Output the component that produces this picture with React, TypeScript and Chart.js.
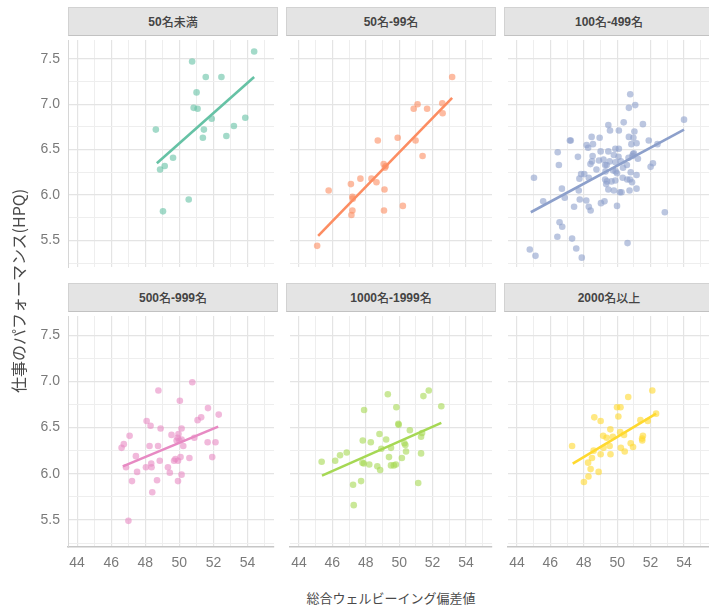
import React, { useEffect, useRef } from 'react';
import { Chart, registerables } from 'chart.js';

Chart.register(...registerables);

// ---------- data ----------
const panelTitles = ['50名未満', '50名-99名', '100名-499名', '500名-999名', '1000名-1999名', '2000名以上'];
const panelColors = ['#66C2A5', '#FC8D62', '#8DA0CB', '#E78AC3', '#A6D854', '#FFD92F'];

const xMajorTicks = [44, 46, 48, 50, 52, 54];
const xMinorTicks = [45, 47, 49, 51, 53, 55];
const yMajorTicks = [5.5, 6.0, 6.5, 7.0, 7.5];
const yMinorTicks = [5.25, 5.75, 6.25, 6.75, 7.25];

const xTitle = '総合ウェルビーイング偏差値';
const yTitle = '仕事のパフォーマンス(HPQ)';

const p1X = [54.39, 50.75, 51.55, 52.47, 51.01, 50.84, 51.07, 51.9, 53.87, 53.2, 51.44, 48.62, 52.76, 51.38, 49.63, 49.14, 48.87, 50.55, 49.04];
const p1Y = [7.58, 7.47, 7.30, 7.30, 7.13, 6.96, 6.95, 6.84, 6.85, 6.76, 6.72, 6.72, 6.65, 6.63, 6.41, 6.32, 6.28, 5.95, 5.82];

const p2X = [53.17, 51.10, 50.87, 51.67, 52.58, 52.6, 48.72, 49.91, 50.98, 51.40, 49.07, 49.14, 49.2, 47.68, 48.34, 48.64, 47.11, 49.12, 45.78, 47.20, 47.22, 50.22, 49.09, 47.2, 47.14, 45.09];
const p2Y = [7.30, 7.00, 6.95, 6.95, 7.01, 6.90, 6.60, 6.63, 6.60, 6.43, 6.34, 6.30, 6.32, 6.18, 6.18, 6.14, 6.12, 6.06, 6.05, 5.98, 5.96, 5.88, 5.83, 5.83, 5.78, 5.44];

const p3X = [50.78, 50.70, 51.08, 54.0, 51.54, 50.39, 49.47, 49.57, 50.10, 51.03,
  47.17, 47.22, 48.47, 48.95, 48.17, 48.55, 48.26, 50.70, 50.97, 51.89,
  51.16, 50.85, 52.41, 46.44, 47.65, 49.01, 49.47, 49.80, 50.10, 49.89,
  50.08, 48.53, 48.49, 48.40, 48.91, 49.18, 49.28, 48.76, 49.37, 49.55,
  49.89, 50.22, 50.68, 50.95, 51.0, 50.91, 51.24, 52.0, 52.14, 46.51,
  45.02, 47.84, 48.03, 47.74, 48.30, 49.30, 49.91, 49.76, 49.99, 50.35,
  50.58, 50.81, 51.16, 49.28, 49.39, 49.66, 49.89, 50.33, 50.60, 50.89,
  50.76, 49.34, 49.47, 49.80, 50.16, 50.26, 50.74, 51.16, 46.69, 46.86,
  47.70, 47.76, 48.15, 45.57, 47.42, 48.30, 48.41, 49.03, 49.24, 49.99,
  52.85, 46.55, 46.71, 46.42, 47.30, 50.62, 47.55, 44.77, 45.11, 47.88];
const p3Y = [7.11, 6.96, 6.99, 6.83, 6.78, 6.80, 6.77, 6.71, 6.71, 6.70,
  6.60, 6.60, 6.64, 6.63, 6.55, 6.56, 6.52, 6.64, 6.63, 6.60,
  6.57, 6.56, 6.56, 6.47, 6.42, 6.48, 6.48, 6.44, 6.51, 6.51,
  6.42, 6.43, 6.37, 6.34, 6.38, 6.39, 6.33, 6.28, 6.33, 6.37,
  6.36, 6.37, 6.41, 6.45, 6.46, 6.43, 6.40, 6.31, 6.35, 6.33,
  6.19, 6.23, 6.23, 6.18, 6.19, 6.26, 6.26, 6.27, 6.24, 6.30,
  6.33, 6.25, 6.22, 6.17, 6.15, 6.15, 6.16, 6.19, 6.17, 6.14,
  6.17, 6.12, 6.06, 6.05, 6.03, 6.03, 6.05, 6.07, 6.07, 5.97,
  6.05, 5.95, 5.94, 5.93, 5.87, 5.87, 5.83, 5.91, 5.93, 5.88,
  5.81, 5.70, 5.65, 5.54, 5.52, 5.47, 5.41, 5.40, 5.33, 5.31];

const p4X = [50.76, 48.77, 50.03, 51.68, 52.31, 51.28, 51.07, 48.08, 48.31, 48.90,
  50.13, 49.54, 49.95, 49.90, 50.0, 50.13, 49.84, 47.08, 46.74, 46.61,
  48.25, 48.75, 50.23, 50.88, 51.66, 52.12, 47.45, 48.85, 49.69, 49.77,
  49.92, 50.07, 50.59, 51.93, 46.87, 48.04, 48.35, 48.37, 49.33, 49.44,
  47.52, 47.22, 48.69, 49.92, 50.13, 48.41, 47.01];
const p4Y = [6.99, 6.90, 6.79, 6.71, 6.64, 6.61, 6.58, 6.57, 6.52, 6.49,
  6.49, 6.42, 6.43, 6.39, 6.36, 6.37, 6.36, 6.41, 6.32, 6.28,
  6.30, 6.30, 6.30, 6.39, 6.34, 6.34, 6.19, 6.14, 6.14, 6.16,
  6.14, 6.18, 6.17, 6.18, 6.07, 6.07, 6.11, 6.07, 6.07, 6.01,
  6.02, 5.92, 5.93, 5.92, 5.99, 5.80, 5.49];

const p5X = [49.32, 51.77, 51.45, 52.52, 49.83, 47.90, 49.95, 49.97, 50.64, 51.37,
  51.31, 47.82, 48.30, 48.82, 49.22, 49.51, 50.31, 50.37, 48.93, 50.41,
  51.31, 46.86, 46.46, 46.17, 45.36, 49.39, 50.16, 47.80, 47.88, 48.21,
  48.69, 48.86, 49.51, 49.68, 49.80, 47.24, 47.72, 51.14, 47.28];
const p5Y = [6.86, 6.90, 6.84, 6.73, 6.72, 6.69, 6.54, 6.53, 6.47, 6.44,
  6.40, 6.36, 6.34, 6.43, 6.37, 6.28, 6.33, 6.31, 6.27, 6.24,
  6.22, 6.23, 6.20, 6.14, 6.13, 6.18, 6.17, 6.12, 6.11, 6.10,
  6.08, 6.04, 6.09, 6.09, 6.10, 5.88, 5.92, 5.90, 5.66];

const p6X = [52.10, 50.66, 49.99, 50.20, 50.07, 48.63, 49.01, 51.39, 51.83, 52.33,
  49.59, 49.16, 49.37, 49.74, 50.18, 50.41, 51.49, 51.54, 51.50, 47.30,
  49.55, 49.18, 48.59, 49.01, 49.60, 50.22, 50.45, 50.81, 50.95, 48.49,
  48.26, 48.41, 48.89, 48.28, 48.01];
const p6Y = [6.90, 6.83, 6.72, 6.72, 6.62, 6.61, 6.57, 6.58, 6.57, 6.65,
  6.48, 6.41, 6.39, 6.40, 6.45, 6.42, 6.38, 6.41, 6.36, 6.30,
  6.30, 6.28, 6.25, 6.21, 6.21, 6.28, 6.24, 6.33, 6.29, 6.17,
  6.12, 6.05, 6.02, 5.97, 5.91];

const panelXs = [p1X, p2X, p3X, p4X, p5X, p6X];
const panelYs = [p1Y, p2Y, p3Y, p4Y, p5Y, p6Y];

// fitted regression line end points (start x, end x) / (start y, end y)
const fitX = [[48.68, 54.39], [45.15, 53.17], [44.83, 54.0], [46.68, 52.28], [45.38, 52.52], [47.34, 52.33]];
const fitY = [[6.35, 7.30], [5.55, 7.07], [5.81, 6.72], [6.08, 6.51], [5.98, 6.55], [6.11, 6.65]];

// ---------- layout ----------
const X_MIN = 43.465;
const X_MAX = 55.555;
const Y_MIN = 5.207;
const Y_MAX = 7.707;
const COL_LEFT = [68, 286, 504];
const ROW_TOP = [36, 312];
const PLOT_W = 210;
const PLOT_H = 235;
const Y_AXIS_W = 68;
const X_AXIS_H = 30;
const STRIP_H = 29;

const LATIN = "'Liberation Sans', Arial, 'Noto Sans CJK JP', sans-serif";
const CJK = "'Noto Sans CJK JP', 'Liberation Sans', sans-serif";

const allX = [...xMajorTicks, ...xMinorTicks].sort((a, b) => a - b);
const allY = [...yMajorTicks, ...yMinorTicks].sort((a, b) => a - b);

function hexToRgba(hex: string, a: number) {
  const n = parseInt(hex.slice(1), 16);
  return `rgba(${(n >> 16) & 255},${(n >> 8) & 255},${n & 255},${a})`;
}

function isMajor(list: number[], v: number) {
  return list.some((m) => Math.abs(m - v) < 1e-9);
}

function Panel({ index }: { index: number }) {
  const ref = useRef<HTMLCanvasElement | null>(null);
  const col = index % 3;
  const row = Math.floor(index / 3);
  const showY = col === 0;
  const showX = row === 1;
  const left = COL_LEFT[col] - (showY ? Y_AXIS_W : 0);
  const top = ROW_TOP[row];
  const width = PLOT_W + (showY ? Y_AXIS_W : 0);
  const height = PLOT_H + (showX ? X_AXIS_H : 0);

  useEffect(() => {
    if (!ref.current) return;
    const color = panelColors[index];
    const xs = panelXs[index];
    const ys = panelYs[index];
    const pts = xs.map((x, i) => ({ x, y: ys[i] }));
    const fit = fitX[index].map((x, i) => ({ x, y: fitY[index][i] }));

    const zeroPad = (s: any) => {
      s.paddingLeft = 0;
      s.paddingRight = 0;
      s.paddingTop = 0;
      s.paddingBottom = 0;
    };

    const chart = new Chart(ref.current, {
      type: 'scatter',
      data: {
        datasets: [
          {
            type: 'line',
            data: fit,
            borderColor: color,
            borderWidth: 2.6,
            pointRadius: 0,
            fill: false,
            tension: 0,
          } as any,
          {
            type: 'scatter',
            data: pts,
            backgroundColor: hexToRgba(color, 0.6),
            borderWidth: 0,
            pointRadius: 3.3,
          } as any,
        ],
      },
      options: {
        animation: false,
        responsive: false,
        maintainAspectRatio: false,
        events: [],
        layout: { padding: 0 },
        plugins: {
          legend: { display: false },
          tooltip: { enabled: false },
          title: { display: false },
        },
        scales: {
          x: {
            type: 'linear',
            position: 'bottom',
            min: X_MIN,
            max: X_MAX,
            afterBuildTicks: (s: any) => {
              s.ticks = allX.map((value) => ({ value }));
            },
            afterFit: (s: any) => {
              s.height = showX ? X_AXIS_H : 0;
              zeroPad(s);
            },
            ticks: {
              display: showX,
              autoSkip: false,
              maxRotation: 0,
              padding: 8,
              color: '#7a7a7a',
              font: { family: LATIN, size: 14 },
              callback: (v: any) => (isMajor(xMajorTicks, Number(v)) ? String(v) : ''),
            },
            grid: {
              drawTicks: false,
              color: (ctx: any) => (ctx.tick && isMajor(xMajorTicks, ctx.tick.value) ? '#e4e4e4' : '#eeeeee'),
              lineWidth: (ctx: any) => (ctx.tick && isMajor(xMajorTicks, ctx.tick.value) ? 1.2 : 1),
            },
            border: { display: showX, color: '#c6c6c6', width: 1.5 },
          },
          y: {
            type: 'linear',
            position: 'left',
            min: Y_MIN,
            max: Y_MAX,
            afterBuildTicks: (s: any) => {
              s.ticks = allY.map((value) => ({ value }));
            },
            afterFit: (s: any) => {
              s.width = showY ? Y_AXIS_W : 0;
              zeroPad(s);
            },
            ticks: {
              display: showY,
              autoSkip: false,
              padding: 8,
              color: '#7a7a7a',
              font: { family: LATIN, size: 14 },
              callback: (v: any) => (isMajor(yMajorTicks, Number(v)) ? Number(v).toFixed(1) : ''),
            },
            grid: {
              drawTicks: false,
              color: (ctx: any) => (ctx.tick && isMajor(yMajorTicks, ctx.tick.value) ? '#e4e4e4' : '#eeeeee'),
              lineWidth: (ctx: any) => (ctx.tick && isMajor(yMajorTicks, ctx.tick.value) ? 1.2 : 1),
            },
            border: { display: showY, color: '#d6d6d6', width: 1 },
          },
        },
      } as any,
    });
    return () => chart.destroy();
  }, [index]);

  const title = panelTitles[index];
  const runs = title.match(/[\x00-\x7F]+|[^\x00-\x7F]+/g) || [];

  return (
    <>
      <div
        style={{
          position: 'absolute',
          left: COL_LEFT[col],
          top: ROW_TOP[row] - STRIP_H,
          width: PLOT_W,
          height: STRIP_H,
          boxSizing: 'border-box',
          background: '#e4e4e4',
          border: '1px solid #d2d2d2',
          borderBottom: '1px solid #c2c2c2',
          display: 'flex',
          alignItems: 'center',
          justifyContent: 'center',
          color: '#444',
          fontSize: 12,
          lineHeight: '12px',
          whiteSpace: 'nowrap',
        }}
      >
        {runs.map((r, i) =>
          /^[\x00-\x7F]+$/.test(r) ? (
            <span key={i} style={{ fontFamily: LATIN, fontWeight: 700 }}>{r}</span>
          ) : (
            <span key={i} style={{ fontFamily: CJK, fontWeight: 500 }}>{r}</span>
          )
        )}
      </div>
      <canvas
        ref={ref}
        width={width}
        height={height}
        style={{ position: 'absolute', left, top, width, height, display: 'block' }}
      />
    </>
  );
}

export default function App() {
  return (
    <div
      style={{
        position: 'absolute',
        left: 0,
        top: 0,
        width: 709,
        height: 607,
        overflow: 'hidden',
        background: '#ffffff',
      }}
    >
      {panelTitles.map((_, i) => (
        <Panel key={i} index={i} />
      ))}
      <div
        style={{
          position: 'absolute',
          left: 391 - 150,
          top: 588,
          width: 300,
          textAlign: 'center',
          fontFamily: CJK,
          fontSize: 13,
          lineHeight: '20px',
          color: '#4a4a4a',
          whiteSpace: 'nowrap',
        }}
      >
        {xTitle}
      </div>
      <div
        style={{
          position: 'absolute',
          left: 18 - 150,
          top: 291 - 10,
          width: 300,
          height: 20,
          textAlign: 'center',
          fontFamily: CJK,
          fontSize: 16,
          lineHeight: '20px',
          color: '#4a4a4a',
          whiteSpace: 'nowrap',
          transform: 'rotate(-90deg)',
          transformOrigin: '50% 50%',
        }}
      >
        {yTitle}
      </div>
    </div>
  );
}
